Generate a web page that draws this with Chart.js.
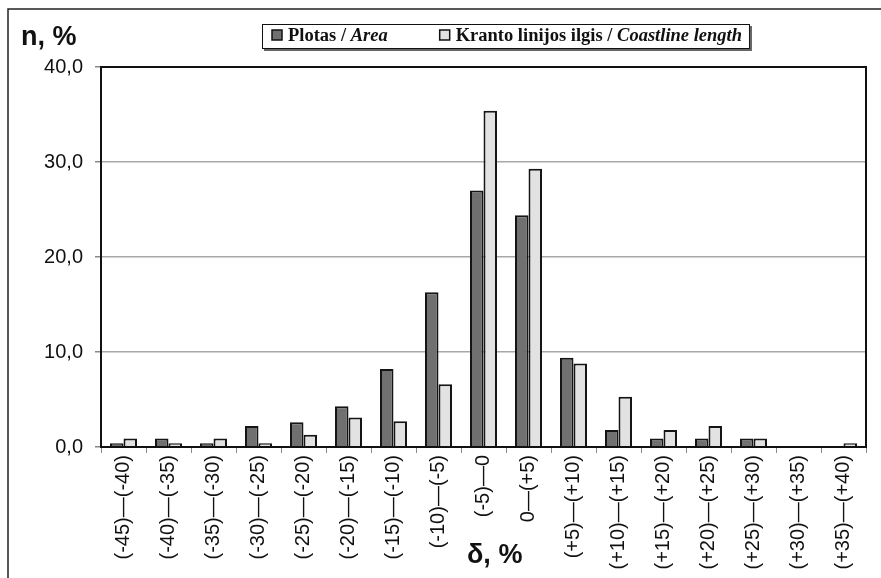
<!DOCTYPE html>
<html>
<head>
<meta charset="utf-8">
<script src="https://cdn.jsdelivr.net/npm/chart.js@4.4.0/dist/chart.umd.min.js"></script>
<style>
  html, body { margin: 0; padding: 0; background: #fff; }
  #wrap { width: 881px; height: 578px; position: relative; }
</style>
</head>
<body>
<div id="wrap"><canvas id="chart" width="881" height="578"></canvas></div>
<script>
// intervalai (δ, %)
const categories = ['(-45)—(-40)', '(-40)—(-35)', '(-35)—(-30)', '(-30)—(-25)', '(-25)—(-20)',
  '(-20)—(-15)', '(-15)—(-10)', '(-10)—(-5)', '(-5)—0', '0—(+5)', '(+5)—(+10)',
  '(+10)—(+15)', '(+15)—(+20)', '(+20)—(+25)', '(+25)—(+30)', '(+30)—(+35)', '(+35)—(+40)'];

// Plotas / Area
const areaValues = [0.4, 0.9, 0.4, 2.2, 2.6, 4.3, 8.2, 16.3, 27.0, 24.4, 9.4, 1.8, 0.9, 0.9, 0.9, 0, 0];
// Kranto linijos ilgis / Coastline length
const coastValues = [0.9, 0.4, 0.9, 0.4, 1.3, 3.1, 2.7, 6.6, 35.4, 29.3, 8.8, 5.3, 1.8, 2.2, 0.9, 0, 0.4];

const yTicks = [0, 10, 20, 30, 40];

const seriesNames = [
  { main: 'Plotas / ', em: 'Area' },
  { main: 'Kranto linijos ilgis / ', em: 'Coastline length' }
];

// rėmelis, ašių pavadinimai ir legenda
const decorPlugin = {
  id: 'decor',
  beforeDraw(chart) {
    const c = chart.ctx;
    c.save();
    c.strokeStyle = '#222';
    c.lineWidth = 1.5;
    c.beginPath();
    c.moveTo(8, 578);
    c.lineTo(8, 9);
    c.lineTo(881, 9);
    c.stroke();
    c.restore();
  },
  afterDraw(chart) {
    const c = chart.ctx;
    const a = chart.chartArea;
    c.save();
    // plot border
    c.strokeStyle = '#111';
    c.lineWidth = 2;
    c.strokeRect(a.left, a.top, a.right - a.left, a.bottom - a.top);

    // axis titles
    c.fillStyle = '#111';
    c.font = 'bold 27px "Liberation Sans", Arial, sans-serif';
    c.textBaseline = 'alphabetic';
    c.textAlign = 'left';
    c.fillText('n, %', 21, 45);
    c.fillText('δ, %', 467, 563);

    // legend
    const ds = chart.data.datasets;
    const fMain = 'bold 18.5px "Liberation Serif", "Times New Roman", serif';
    const fEm = 'italic bold 18.5px "Liberation Serif", "Times New Roman", serif';
    const gap = 52;
    let x = 272;
    const y = 41;
    const items = [];
    seriesNames.forEach((s, i) => {
      c.font = fMain;
      const w1 = c.measureText(s.main).width;
      c.font = fEm;
      const w2 = c.measureText(s.em).width;
      items.push({ x, w1, w2, color: ds[i].backgroundColor, s });
      x += 10 + 6 + w1 + w2 + gap;
    });
    const boxRight = x - gap + 8;
    // shadow
    c.fillStyle = '#666';
    c.fillRect(264, 26, boxRight - 262, 25);
    c.fillStyle = '#fff';
    c.fillRect(262, 24, boxRight - 262, 25);
    c.strokeStyle = '#111';
    c.lineWidth = 1;
    c.strokeRect(262.5, 24.5, boxRight - 263, 24);
    items.forEach(it => {
      c.fillStyle = it.color;
      c.fillRect(it.x, 30, 10, 10);
      c.strokeStyle = '#111';
      c.lineWidth = 1.5;
      c.strokeRect(it.x, 30, 10, 10);
      c.fillStyle = '#111';
      c.font = fMain;
      c.fillText(it.s.main, it.x + 16, y);
      c.font = fEm;
      c.fillText(it.s.em, it.x + 16 + it.w1, y);
    });
    c.restore();
  }
};

new Chart(document.getElementById('chart'), {
  type: 'bar',
  data: {
    labels: categories,
    datasets: [
      {
        label: 'Plotas / Area',
        data: areaValues,
        backgroundColor: '#707070',
        borderColor: '#151515',
        borderWidth: 2,
        borderSkipped: 'bottom'
      },
      {
        label: 'Kranto linijos ilgis / Coastline length',
        data: coastValues,
        backgroundColor: '#e2e2e2',
        borderColor: '#151515',
        borderWidth: 2,
        borderSkipped: 'bottom'
      }
    ]
  },
  options: {
    responsive: false,
    animation: false,
    categoryPercentage: 0.6,
    barPercentage: 1.0,
    layout: { padding: { top: 67, right: 15, left: 0, bottom: 0 } },
    plugins: {
      legend: { display: false },
      tooltip: { enabled: false }
    },
    scales: {
      x: {
        offset: true,
        grid: {
          offset: true,
          drawOnChartArea: false,
          drawTicks: true,
          tickLength: 6,
          color: '#888'
        },
        border: { display: false },
        ticks: {
          color: '#111',
          minRotation: 90,
          maxRotation: 90,
          autoSkip: false,
          padding: 2,
          font: { family: '"Liberation Sans", Arial, sans-serif', size: 20 }
        },
        afterFit(scale) { scale.height = 131; }
      },
      y: {
        min: 0,
        max: 40,
        afterBuildTicks(scale) { scale.ticks = yTicks.map(v => ({ value: v })); },
        grid: {
          color: '#a8a8a8',
          lineWidth: 1.5,
          tickLength: 6,
          tickColor: '#888'
        },
        border: { display: false },
        ticks: {
          color: '#111',
          padding: 12,
          font: { family: '"Liberation Sans", Arial, sans-serif', size: 20 },
          callback: v => v.toFixed(1).replace('.', ',')
        },
        afterFit(scale) { scale.width = 101; }
      }
    }
  },
  plugins: [decorPlugin]
});
</script>
</body>
</html>
